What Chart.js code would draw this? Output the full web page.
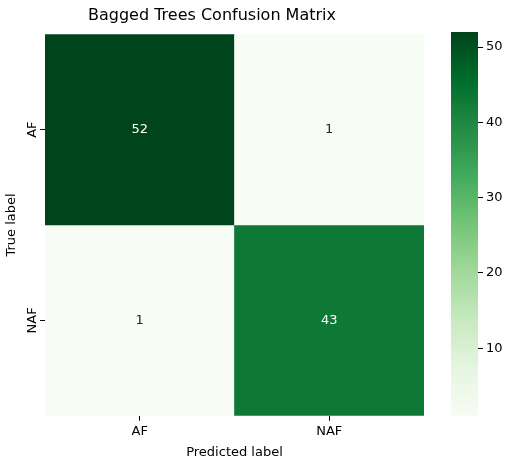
<!DOCTYPE html>
<html><head><meta charset="utf-8">
<script src="https://cdn.jsdelivr.net/npm/chart.js@4"></script>
<style>body{margin:0;background:#fff}canvas{position:absolute}</style>
</head><body>
<canvas id="c" width="440" height="470" style="left:0;top:0"></canvas>
<canvas id="cb" width="65" height="470" style="left:440px;top:0"></canvas>
<script>
const predLabels = ['AF','NAF'];
const trueLabels = ['AF','NAF'];
const matrix = [[52,1],[1,43]];
const cbTicks = [10,20,30,40,50];
const vmin = 1, vmax = 52;
const greens = ['#f7fcf5','#e5f5e0','#c7e9c0','#a1d99b','#74c476','#41ab5d','#238b45','#006d2c','#00441b'];
function hex(h){return [1,3,5].map(i=>parseInt(h.substr(i,2),16));}
function cmap(v){
  let t=(v-vmin)/(vmax-vmin); t=Math.max(0,Math.min(1,t));
  const p=t*(greens.length-1), i=Math.min(Math.floor(p),greens.length-2), f=p-i;
  const a=hex(greens[i]), b=hex(greens[i+1]);
  return 'rgb('+a.map((x,k)=>Math.round(x+(b[k]-x)*f)).join(',')+')';
}
const FONT='DejaVu Sans';
Chart.defaults.font.family=FONT;
Chart.defaults.color='#000';
const datasets = trueLabels.map((t,r)=>({
  label:t, stack:'s',
  data: matrix[r].map(()=>[r,r+1]),
  backgroundColor: matrix[r].map(v=>cmap(v)),
  barPercentage:1, categoryPercentage:1, borderWidth:0
}));
const textPlugin={id:'txt',afterDraw(ch){
  const ctx=ch.ctx,x=ch.scales.x,y=ch.scales.y;
  ctx.save();ctx.textAlign='center';ctx.textBaseline='middle';ctx.font='13px '+FONT;
  matrix.forEach((row,r)=>row.forEach((v,c)=>{
    ctx.fillStyle=(v-vmin)/(vmax-vmin)>0.5?'#fff':'#262626';
    ctx.fillText(String(v),x.getPixelForValue(c),y.getPixelForValue(r+0.5));
  }));
  trueLabels.forEach((t,r)=>{
    ctx.save();ctx.translate(y.left+ (y.right-y.left)-12,y.getPixelForValue(r+0.5));ctx.rotate(-Math.PI/2);
    ctx.fillStyle='#000';ctx.fillText(t,0,0);ctx.restore();
  });
  ctx.restore();
}};
new Chart(document.getElementById('c'),{
  type:'bar',
  data:{labels:predLabels,datasets},
  options:{responsive:false,animation:false,
    layout:{padding:{left:0,right:16,top:0,bottom:6}},
    plugins:{legend:{display:false},tooltip:{enabled:false},
      title:{display:true,text:'Bagged Trees Confusion Matrix',font:{size:16,weight:'normal'},padding:{top:6,bottom:9},color:'#000'}},
    scales:{
      x:{stacked:true,grid:{display:true,drawOnChartArea:false,offset:false,tickLength:5,color:'#000'},border:{display:false},
        ticks:{font:{size:13},padding:3},title:{display:true,text:'Predicted label',font:{size:13},padding:{top:2}}},
      y:{stacked:false,min:0,max:2,reverse:true,
        afterBuildTicks:s=>{s.ticks=[{value:0.5},{value:1.5}];},
        grid:{display:true,drawOnChartArea:false,tickLength:5,color:'#000'},border:{display:false},
        ticks:{font:{size:13},callback:()=> '   ',padding:4},
        title:{display:true,text:'True label',font:{size:13},padding:{bottom:0}}}
    }
  },
  plugins:[textPlugin]
});
const gradPlugin={id:'grad'};
new Chart(document.getElementById('cb'),{
  type:'bar',
  data:{labels:[''],datasets:[{data:[[vmin,vmax]],barPercentage:1,categoryPercentage:1,borderWidth:0,
    backgroundColor:(ctx)=>{const ch=ctx.chart,a=ch.chartArea;if(!a)return '#fff';
      const y=ch.scales.y,g=ch.ctx.createLinearGradient(0,y.getPixelForValue(vmin),0,y.getPixelForValue(vmax));
      greens.forEach((c,i)=>g.addColorStop(i/(greens.length-1),c));return g;}}]},
  options:{responsive:false,animation:false,
    layout:{padding:{left:11,top:32,bottom:54}},
    plugins:{legend:{display:false},tooltip:{enabled:false}},
    scales:{x:{display:false},
      y:{position:'right',min:vmin,max:vmax,afterBuildTicks:s=>{s.ticks=cbTicks.map(v=>({value:v}));},
        grid:{drawOnChartArea:false,tickLength:5,color:'#000'},border:{display:false},ticks:{font:{size:13},padding:3}}}
  }
});
</script>
</body></html>
